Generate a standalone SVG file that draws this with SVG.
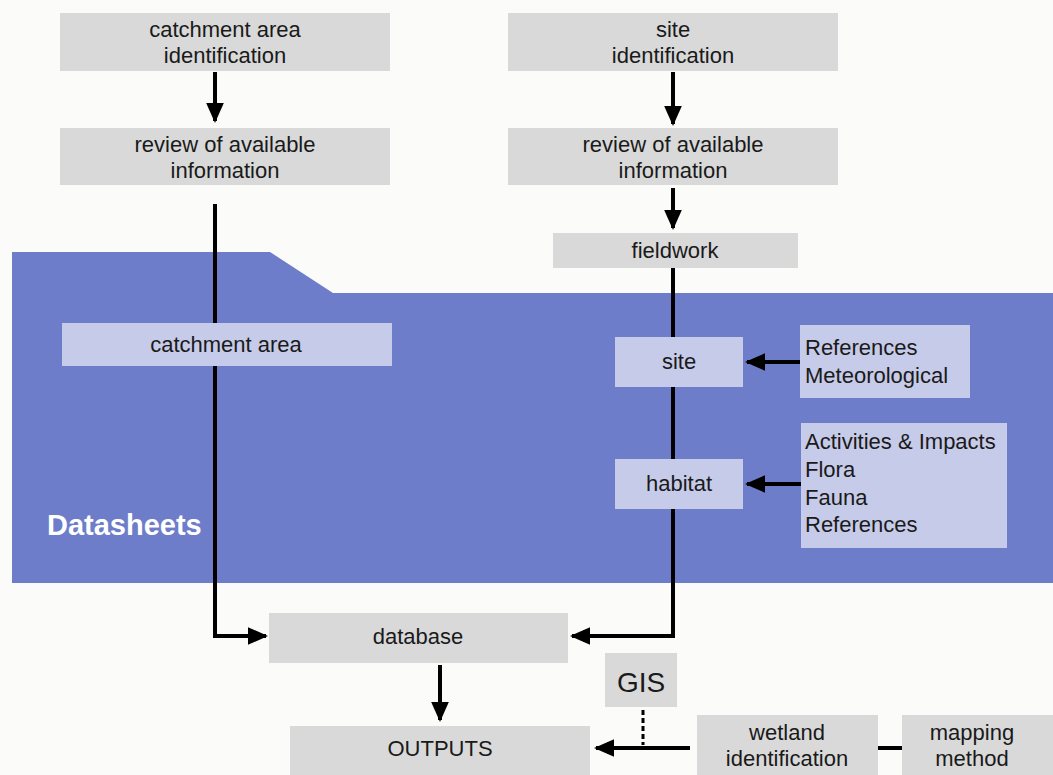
<svg xmlns="http://www.w3.org/2000/svg" width="1053" height="775" viewBox="0 0 1053 775">
<style>
.g{fill:#d9d9d9}
.l{fill:#c6cbe9}
.t{font-family:"Liberation Sans",Arial,sans-serif;font-size:22px;fill:#1a1a1a;text-anchor:middle}
.ts{font-family:"Liberation Sans",Arial,sans-serif;font-size:22px;fill:#1a1a1a}
.c{stroke:#000;stroke-width:4;fill:none}
</style>
<defs>
<marker id="ah" markerWidth="5" markerHeight="5" refX="4.5" refY="2.5" orient="auto" markerUnits="strokeWidth">
<path d="M0,0.3 L5,2.5 L0,4.7 z" fill="#000"/>
</marker>
</defs>
<rect width="1053" height="775" fill="#fbfbfa"/>
<g id="datasheets">
<path d="M12,252 L270,252 L333,293 L1053,293 L1053,583 L12,583 z" fill="#6d7dc9"/>
<text x="47" y="535" style="font-family:'Liberation Sans',Arial,sans-serif;font-size:29px;font-weight:bold;fill:#fff">Datasheets</text>
</g>
<g id="connectors">
<line class="c" x1="215" y1="72" x2="215" y2="121" marker-end="url(#ah)"/>
<line class="c" x1="673" y1="72" x2="673" y2="124" marker-end="url(#ah)"/>
<line class="c" x1="673" y1="188" x2="673" y2="228" marker-end="url(#ah)"/>
<polyline class="c" points="215,204 215,636 266,636" marker-end="url(#ah)"/>
<polyline class="c" points="673,268 673,636 572,636" marker-end="url(#ah)"/>
<line class="c" x1="800" y1="362" x2="747" y2="362" marker-end="url(#ah)"/>
<line class="c" x1="801" y1="484" x2="747" y2="484" marker-end="url(#ah)"/>
<line class="c" x1="440" y1="665" x2="440" y2="720" marker-end="url(#ah)"/>
<line x1="643" y1="710" x2="643" y2="745" stroke="#000" stroke-width="3" stroke-dasharray="5,3"/>
<line class="c" x1="690" y1="748" x2="596" y2="748" marker-end="url(#ah)"/>
<line class="c" x1="878" y1="748" x2="902" y2="748"/>
</g>
<g id="n-catchment-id"><rect class="g" x="60" y="13" width="330" height="58"/><text class="t" x="225" y="37">catchment area</text><text class="t" x="225" y="63">identification</text></g>
<g id="n-site-id"><rect class="g" x="508" y="13" width="330" height="58"/><text class="t" x="673" y="37">site</text><text class="t" x="673" y="63">identification</text></g>
<g id="n-review-left"><rect class="g" x="60" y="128" width="330" height="57"/><text class="t" x="225" y="152">review of available</text><text class="t" x="225" y="178">information</text></g>
<g id="n-review-right"><rect class="g" x="508" y="128" width="330" height="57"/><text class="t" x="673" y="152">review of available</text><text class="t" x="673" y="178">information</text></g>
<g id="n-fieldwork"><rect class="g" x="553" y="233" width="245" height="35"/><text class="t" x="675" y="258">fieldwork</text></g>
<g id="n-catchment-area"><rect class="l" x="62" y="323" width="330" height="43"/><text class="t" x="226" y="352">catchment area</text></g>
<g id="n-site"><rect class="l" x="615" y="337" width="128" height="50"/><text class="t" x="679" y="369">site</text></g>
<g id="n-refs"><rect class="l" x="800" y="325" width="170" height="73"/><text class="ts" x="805" y="355">References</text><text class="ts" x="805" y="383">Meteorological</text></g>
<g id="n-habitat"><rect class="l" x="615" y="459" width="128" height="50"/><text class="t" x="679" y="491">habitat</text></g>
<g id="n-activities"><rect class="l" x="801" y="423" width="206" height="125"/><text class="ts" x="805" y="449">Activities &amp; Impacts</text><text class="ts" x="805" y="477">Flora</text><text class="ts" x="805" y="505">Fauna</text><text class="ts" x="805" y="532">References</text></g>
<g id="n-database"><rect class="g" x="269" y="613" width="299" height="50"/><text class="t" x="418" y="644">database</text></g>
<g id="n-gis"><rect class="g" x="605" y="653" width="72" height="54"/><text class="t" x="641" y="692" style="font-size:28px">GIS</text></g>
<g id="n-outputs"><rect class="g" x="290" y="726" width="300" height="55"/><text class="t" x="440" y="756">OUTPUTS</text></g>
<g id="n-wetland"><rect class="g" x="697" y="715" width="181" height="65"/><text class="t" x="787" y="740">wetland</text><text class="t" x="787" y="766">identification</text></g>
<g id="n-mapping"><rect class="g" x="902" y="715" width="160" height="65"/><text class="t" x="972" y="740">mapping</text><text class="t" x="972" y="766">method</text></g>
</svg>
